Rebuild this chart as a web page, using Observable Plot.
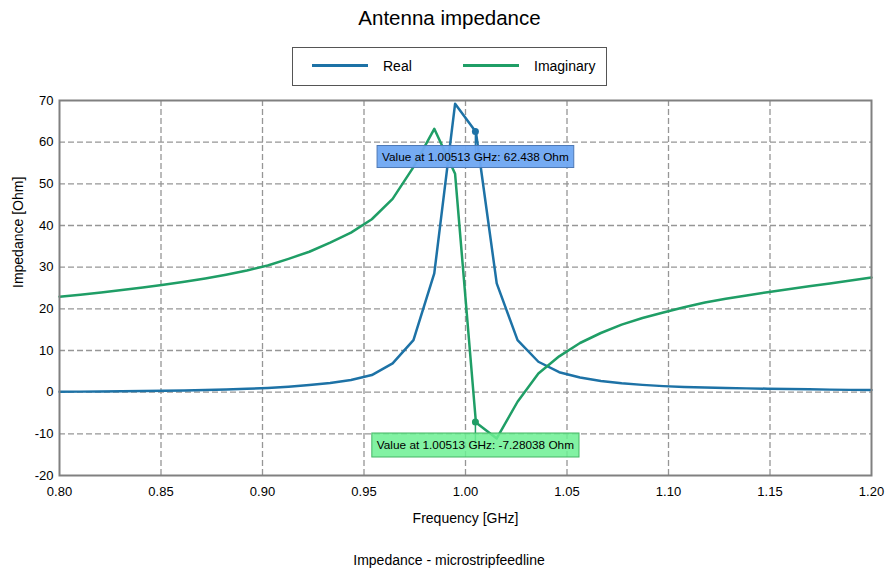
<!DOCTYPE html>
<html>
<head>
<meta charset="utf-8">
<script src="https://cdn.jsdelivr.net/npm/d3@7"></script>
<script src="https://cdn.jsdelivr.net/npm/@observablehq/plot@0.6"></script>
<style>
  body { margin: 0; background: #fff; font-family: "Liberation Sans", Arial, sans-serif; color: #000; }
  #wrap { position: relative; width: 887px; height: 575px; overflow: hidden; }
  #title { position: absolute; top: 6px; left: 0; width: 899px; text-align: center; font-size: 20.5px; line-height: 1.15; }
  #legend { position: absolute; left: 292px; top: 47px; width: 313px; height: 37px; border: 1px solid #555; background: #fff; }
  #legend .sw { position: absolute; top: 16px; width: 56px; height: 3px; }
  #legend .lb { position: absolute; top: 10px; font-size: 14px; line-height: 16px; }
  #chart { position: absolute; left: 0; top: 90px; }
  #caption { position: absolute; top: 552px; left: 0; width: 898px; text-align: center; font-size: 14px; line-height: 16px; }
</style>
</head>
<body>
<div id="wrap">
  <div id="title"></div>
  <div id="legend"></div>
  <div id="chart"></div>
  <div id="caption"></div>
</div>
<script>
// ---------- data ----------
const chartTitle = "Antenna impedance";
const captionText = "Impedance - microstripfeedline";
const xLabel = "Frequency [GHz]";
const yLabel = "Impedance [Ohm]";
const seriesNames = ["Real", "Imaginary"];

const freq = [0.80000, 0.81026, 0.82051, 0.83077, 0.84103, 0.85128, 0.86154, 0.87179, 0.88205, 0.89231,
              0.90256, 0.91282, 0.92308, 0.93333, 0.94359, 0.95385, 0.96410, 0.97436, 0.98462, 0.99487,
              1.00513, 1.01538, 1.02564, 1.03590, 1.04615, 1.05641, 1.06667, 1.07692, 1.08718, 1.09744,
              1.10769, 1.11795, 1.12821, 1.13846, 1.14872, 1.15897, 1.16923, 1.17949, 1.18974, 1.20000];

const realOhm = [0.10, 0.13, 0.17, 0.22, 0.27, 0.34, 0.42, 0.52, 0.65, 0.80,
                 1.00, 1.30, 1.70, 2.20, 2.90, 4.10, 6.90, 12.5, 28.5, 69.2,
                 62.438, 26.1, 12.5, 7.3, 4.8, 3.5, 2.7, 2.15, 1.75, 1.45,
                 1.25, 1.10, 1.00, 0.91, 0.83, 0.76, 0.68, 0.61, 0.55, 0.50];

const imagOhm = [22.9, 23.4, 23.9, 24.5, 25.1, 25.8, 26.5, 27.3, 28.2, 29.2,
                 30.4, 32.0, 33.7, 35.9, 38.3, 41.5, 46.4, 54.0, 63.2, 52.4,
                 -7.28038, -11.1, -2.3, 4.5, 8.6, 11.8, 14.2, 16.2, 17.8, 19.1,
                 20.4, 21.5, 22.4, 23.2, 24.0, 24.7, 25.4, 26.1, 26.8, 27.5];

const xTicks = [0.80, 0.85, 0.90, 0.95, 1.00, 1.05, 1.10, 1.15, 1.20];
const yTicks = [-20, -10, 0, 10, 20, 30, 40, 50, 60, 70];

const markerFreq = 1.00513;
const markerValues = [62.438, -7.28038];
const tooltipTexts = ["Value at 1.00513 GHz: 62.438 Ohm", "Value at 1.00513 GHz: -7.28038 Ohm"];

// ---------- styles ----------
const colors = ["#1d72a6", "#1f9e66"];
const font = "'Liberation Sans', Arial, sans-serif";

// ---------- html parts ----------
document.getElementById("title").textContent = chartTitle;
document.getElementById("caption").textContent = captionText;
const legend = d3.select("#legend");
const legendPos = [{sw: 19, lb: 90}, {sw: 170, lb: 241}];
seriesNames.forEach((name, i) => {
  legend.append("div").attr("class", "sw").style("left", legendPos[i].sw + "px").style("background", colors[i]);
  legend.append("div").attr("class", "lb").style("left", legendPos[i].lb + "px").text(name);
});

// ---------- table ----------
const rows = freq.flatMap((f, i) => [
  {f, v: realOhm[i], s: seriesNames[0]},
  {f, v: imagOhm[i], s: seriesNames[1]}
]);
const markers = markerValues.map((v, i) => ({f: markerFreq, v, s: seriesNames[i], text: tooltipTexts[i]}));

const grid = {stroke: "#969696", strokeDasharray: "6,3", strokeWidth: 1.3};

const chart = Plot.plot({
  width: 887,
  height: 440,
  marginTop: 10,
  marginBottom: 55,
  marginLeft: 59,
  marginRight: 16,
  style: {fontFamily: font, fontSize: "13px", color: "#000", background: "transparent"},
  x: {domain: [0.8, 1.2], ticks: xTicks, tickFormat: d3.format(".2f"), label: null, tickSize: 0, tickPadding: 11},
  y: {domain: [-20, 70], ticks: yTicks, tickFormat: d => String(d), label: null, tickSize: 0, tickPadding: 6},
  color: {domain: seriesNames, range: colors},
  marks: [
    Plot.ruleX(xTicks.slice(1, -1), grid),
    Plot.ruleY(yTicks.slice(1, -1), grid),
    Plot.line(rows, {x: "f", y: "v", z: "s", stroke: "s", strokeWidth: 2.5}),
    Plot.frame({stroke: "#808080", strokeWidth: 2}),
    Plot.text([xLabel], {text: d => d, frameAnchor: "bottom", dy: 47, fontSize: 14}),
    Plot.text([yLabel], {text: d => d, frameAnchor: "left", dx: -41, rotate: -90, fontSize: 14})
  ]
});
document.getElementById("chart").append(chart);

// ---------- tooltips (positioned with Plot's own scales) ----------
const sx = chart.scale("x"), sy = chart.scale("y");
const tipStyle = [
  {fill: "#6ea6f2", stroke: "#4d78b5", gap: 14, h: 22, opacity: 0.95},
  {fill: "#6cf093", stroke: "#45b565", gap: 11, h: 24, opacity: 0.85}
];
const svg = d3.select(chart);
markers.forEach((m, i) => {
  const st = tipStyle[i];
  const px = sx.apply(m.f), py = sy.apply(m.v);
  const g = svg.append("g");
  const top = py + st.gap;
  g.append("line").attr("x1", px).attr("x2", px).attr("y1", py).attr("y2", top + st.h / 2)
    .attr("stroke", colors[i]).attr("stroke-width", 1.5);
  const rect = g.append("rect");
  const txt = g.append("text").attr("x", px).attr("y", top + st.h / 2 + 4.2)
    .attr("text-anchor", "middle").attr("font-family", font).attr("font-size", 11.8).attr("fill", "#000")
    .text(m.text);
  const w = txt.node().getComputedTextLength() + 10;
  rect.attr("x", px - w / 2).attr("y", top).attr("width", w).attr("height", st.h)
    .attr("fill", st.fill).attr("fill-opacity", st.opacity).attr("stroke", st.stroke).attr("stroke-width", 1);
  g.append("circle").attr("cx", px).attr("cy", py).attr("r", 3.5).attr("fill", colors[i]);
});
</script>
</body>
</html>
